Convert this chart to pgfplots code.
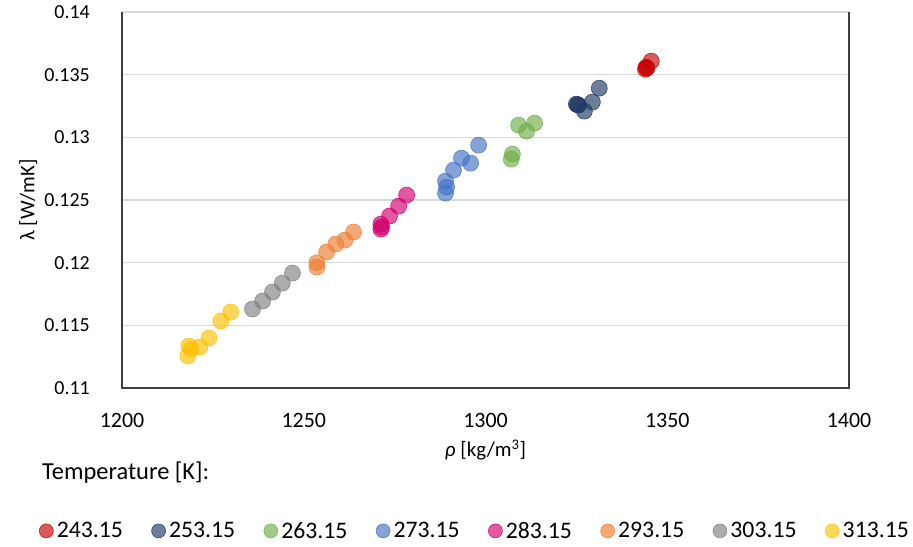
\documentclass[border=0pt]{standalone}
\usepackage{fontspec}
\setmainfont{Carlito}
\usepackage{pgfplots}
\pgfplotsset{compat=1.18}
\definecolor{cRed}{RGB}{200,0,0}
\definecolor{cNavy}{RGB}{31,56,100}
\definecolor{cGreen}{RGB}{112,173,71}
\definecolor{cBlue}{RGB}{68,114,196}
\definecolor{cPink}{RGB}{212,0,110}
\definecolor{cOrange}{RGB}{237,125,49}
\definecolor{cGray}{RGB}{127,127,127}
\definecolor{cYellow}{RGB}{255,192,0}
\definecolor{gridgray}{RGB}{217,217,217}
\definecolor{axdark}{RGB}{64,64,64}
\pgfplotsset{
  pt/.style={only marks, mark=*, mark size=8bp,
    mark options={fill=#1, fill opacity=0.65, draw=#1, draw opacity=0.85, line width=0.6bp}},
}
\begin{document}
\begin{tikzpicture}
\useasboundingbox (0,0) rectangle (913bp,547bp);
\begin{axis}[
  at={(122bp,159bp)}, anchor=south west,
  scale only axis, width=727bp, height=376bp,
  xmin=1200, xmax=1400, ymin=0.11, ymax=0.14,
  xtick={1200,1250,1300,1350,1400},
  ytick={0.11,0.115,0.12,0.125,0.13,0.135,0.14},
  ymajorgrids, major grid style={color=gridgray, line width=1.3bp},
  major tick length=0pt,
  axis line style={draw=none},
  scaled ticks=false,
  /pgf/number format/assume math mode=true,
  /pgf/number format/1000 sep={},
  /pgf/number format/precision=3,
  xticklabel style={font=\fontsize{22}{26}\selectfont, anchor=center, yshift=-32bp},
  yticklabel style={font=\fontsize{20}{24}\selectfont, anchor=east, inner sep=0pt, xshift=-32bp},
  xlabel={\textit{ρ} [kg/m\textsuperscript{3}]},
  ylabel={λ [W/mK]},
  xlabel style={font=\fontsize{21}{25}\selectfont, at={(axis description cs:0.5,-0.165)}, anchor=center},
  ylabel style={font=\fontsize{21}{25}\selectfont, at={(axis description cs:-0.129,0.5)}, anchor=center},
  legend columns=8,
  legend style={draw=none, fill=none, at={(axis description cs:-0.114,-0.380)}, anchor=west,
    inner sep=0pt, font=\fontsize{23.8}{28}\selectfont, nodes={inner sep=3.5bp},
    /tikz/every even column/.append style={column sep=25.2bp}},
  legend image code/.code={\draw[mark repeat=2,mark phase=2,#1,mark size=7bp] plot coordinates {(0bp,0bp)(7bp,0bp)(14bp,0bp)};},
  clip=false,
]
\addplot[pt=cRed] table {
1344.0 0.13544
1344.2 0.13560
1344.4 0.13552
1345.6 0.13608
};
\addlegendentry{243.15}
\addplot[pt=cNavy] table {
1325.0 0.13265
1325.3 0.13260
1325.6 0.13257
1327.2 0.13209
1329.4 0.13281
1331.3 0.13392
};
\addlegendentry{253.15}
\addplot[pt=cGreen] table {
1307.1 0.12826
1307.4 0.12866
1309.1 0.13097
1311.3 0.13049
1313.5 0.13113
};
\addlegendentry{263.15}
\addplot[pt=cBlue] table {
1289.0 0.12555
1289.3 0.12603
1289.0 0.12651
1291.2 0.12738
1293.4 0.12834
1295.9 0.12794
1298.1 0.12938
};
\addlegendentry{273.15}
\addplot[pt=cPink] table {
1271.2 0.12308
1271.2 0.12268
1271.4 0.12285
1273.6 0.12372
1276.1 0.12451
1278.3 0.12539
};
\addlegendentry{283.15}
\addplot[pt=cOrange] table {
1253.6 0.12000
1253.6 0.11965
1256.3 0.12085
1258.8 0.12148
1261.3 0.12180
1263.7 0.12244
};
\addlegendentry{293.15}
\addplot[pt=cGray] table {
1235.9 0.11630
1238.7 0.11694
1241.4 0.11766
1244.1 0.11837
1246.9 0.11917
};
\addlegendentry{303.15}
\addplot[pt=cYellow] table {
1218.1 0.11255
1218.4 0.11335
1219.0 0.11311
1221.4 0.11327
1223.9 0.11399
1227.2 0.11534
1229.9 0.11606
};
\addlegendentry{313.15}
\draw[color=axdark, line width=1.3bp] (rel axis cs:0,1) -- (rel axis cs:0,0) -- (rel axis cs:1,0) -- (rel axis cs:1,1);
\node[anchor=west, inner sep=0pt, font=\fontsize{24.5}{29}\selectfont] at (axis description cs:-0.110,-0.226) {Temperature [K]:};
\end{axis}
\end{tikzpicture}
\end{document}
